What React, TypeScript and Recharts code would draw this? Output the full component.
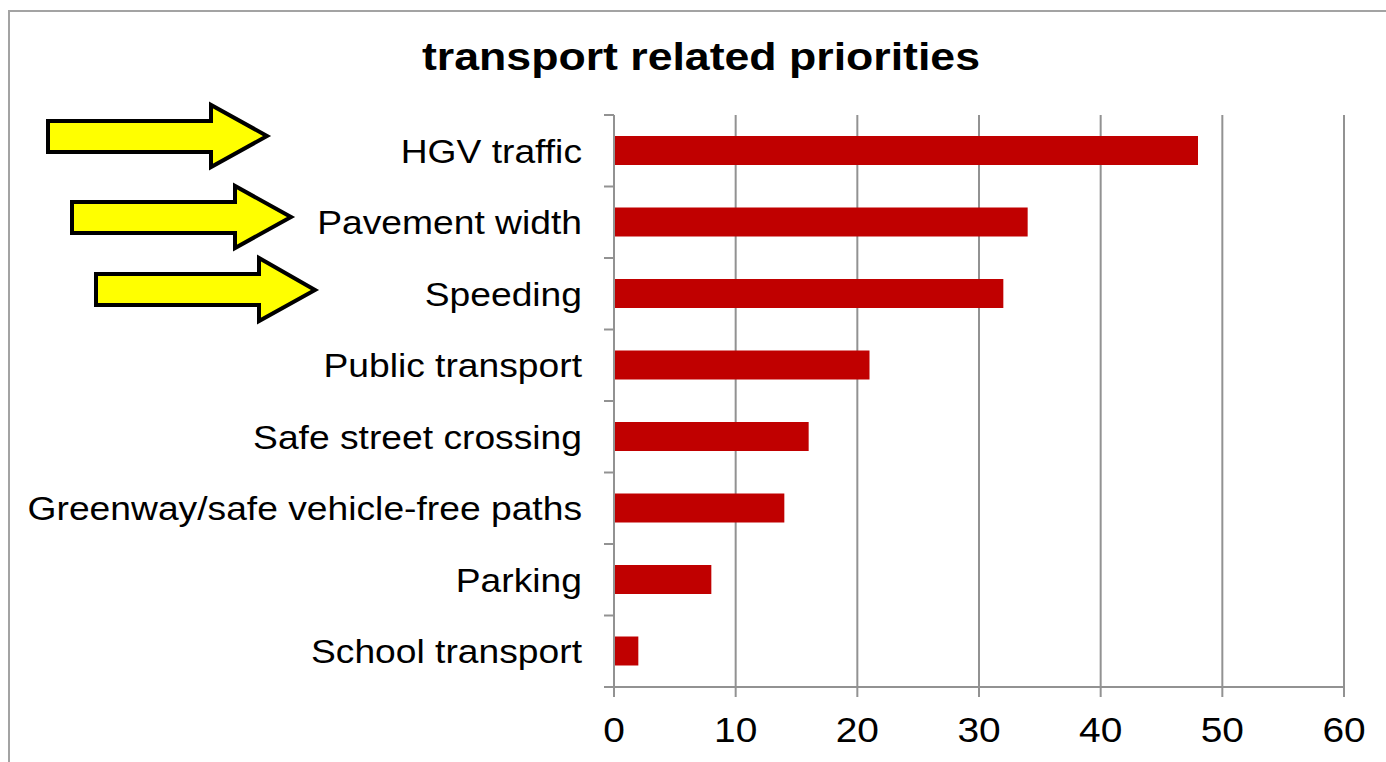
import React from "react";
import { Bar, BarChart, CartesianGrid, XAxis, YAxis } from "recharts";

const categories = [
  "HGV traffic",
  "Pavement width",
  "Speeding",
  "Public transport",
  "Safe street crossing",
  "Greenway/safe vehicle-free paths",
  "Parking",
  "School transport",
];
const counts = [48, 34, 32, 21, 16, 14, 8, 2];
const xTicks = [0, 10, 20, 30, 40, 50, 60];
const title = "transport related priorities";

const data = categories.map((name, i) => ({ name, value: counts[i] }));

const W = 1386;
const H = 762;
const PLOT_TOP = 115;
const PLOT_BOTTOM = 687;
const AXIS_X = 614;
const BAND = (PLOT_BOTTOM - PLOT_TOP) / categories.length;

const FONT = "'Liberation Sans', Arial, sans-serif";
const GRID = "#929292";
const BAR = "#C00000";

// yellow call-out arrows next to the top three items
const arrows = [
  { left: 48, head: 211, tip: 267, bodyTop: 121, bodyBottom: 152, headTop: 105, headBottom: 167, mid: 136 },
  { left: 72, head: 235, tip: 291, bodyTop: 202, bodyBottom: 233, headTop: 186, headBottom: 248, mid: 217 },
  { left: 96, head: 259, tip: 315, bodyTop: 274, bodyBottom: 305, headTop: 258, headBottom: 321, mid: 290 },
];

function YTick(props: any) {
  const { x, y, payload, index } = props;
  const top = y - BAND / 2;
  return (
    <g>
      <line x1={AXIS_X - 10} x2={AXIS_X} y1={top} y2={top} stroke={GRID} strokeWidth={2} />
      {index === categories.length - 1 && (
        <line x1={AXIS_X - 10} x2={AXIS_X} y1={y + BAND / 2} y2={y + BAND / 2} stroke={GRID} strokeWidth={2} />
      )}
      <text
        transform={`translate(${x},${y}) scale(1.095,1)`}
        dy="0.36em"
        textAnchor="end"
        fontFamily={FONT}
        fontSize={34}
        fill="#000"
      >
        {payload.value}
      </text>
    </g>
  );
}

function XTick(props: any) {
  const { x, y, payload } = props;
  return (
    <text
      transform={`translate(${x},${y + 45}) scale(1.08,1)`}
      textAnchor="middle"
      fontFamily={FONT}
      fontSize={36}
      fill="#000"
    >
      {payload.value}
    </text>
  );
}

export default function App() {
  return (
    <div
      style={{
        position: "fixed",
        left: 0,
        top: 0,
        width: W,
        height: H,
        overflow: "hidden",
        background: "#fff",
      }}
    >
      <div
        style={{
          position: "absolute",
          left: 8,
          top: 10,
          width: 1500,
          height: 900,
          border: "2px solid #a3a3a3",
        }}
      />
      <div style={{ position: "absolute", left: 0, top: 0 }}>
        <BarChart
          width={W}
          height={H}
          data={data}
          layout="vertical"
          barSize={29}
          margin={{ top: PLOT_TOP, right: W - 1344, bottom: 0, left: 0 }}
        >
          <CartesianGrid horizontal={false} stroke={GRID} strokeWidth={2} />
          <XAxis
            type="number"
            domain={[0, 60]}
            ticks={xTicks}
            height={H - PLOT_BOTTOM}
            tickSize={10}
            tickMargin={0}
            stroke={GRID}
            strokeWidth={2}
            tick={<XTick />}
          />
          <YAxis
            type="category"
            dataKey="name"
            width={AXIS_X}
            tickLine={false}
            tickSize={10}
            tickMargin={22}
            stroke={GRID}
            strokeWidth={2}
            interval={0}
            tick={<YTick />}
          />
          <Bar dataKey="value" fill={BAR} isAnimationActive={false} />
        </BarChart>
      </div>
      <svg
        width={W}
        height={H}
        style={{ position: "absolute", left: 0, top: 0, pointerEvents: "none" }}
      >
        <text
          x={701}
          y={70}
          textAnchor="middle"
          fontFamily={FONT}
          fontWeight="bold"
          fontSize={38}
          textLength={558}
          lengthAdjust="spacingAndGlyphs"
          fill="#000"
        >
          {title}
        </text>
        {arrows.map((a, i) => (
          <polygon
            key={i}
            points={[
              [a.left, a.bodyTop],
              [a.head, a.bodyTop],
              [a.head, a.headTop],
              [a.tip, a.mid],
              [a.head, a.headBottom],
              [a.head, a.bodyBottom],
              [a.left, a.bodyBottom],
            ]
              .map((p) => p.join(","))
              .join(" ")}
            fill="#FFFF00"
            stroke="#000"
            strokeWidth={4}
            strokeLinejoin="miter"
          />
        ))}
      </svg>
    </div>
  );
}
